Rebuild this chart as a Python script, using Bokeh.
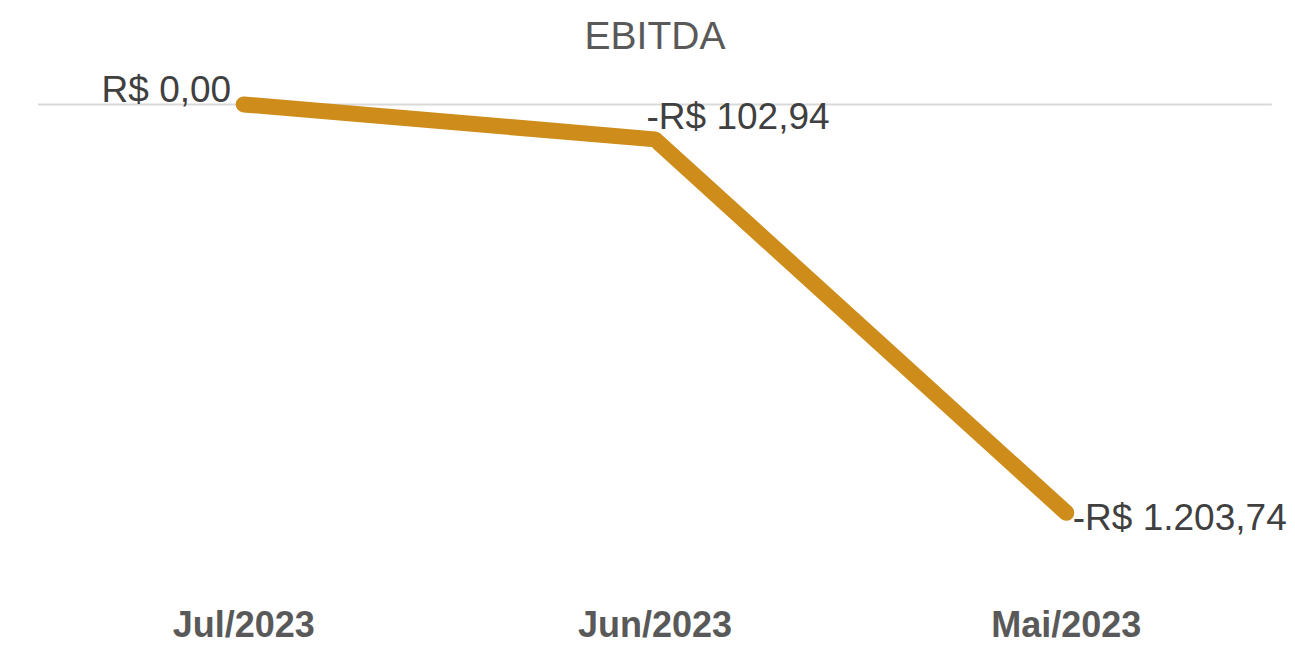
from bokeh.plotting import figure
from bokeh.models import FactorRange, Range1d, ColumnDataSource, LabelSet
from bokeh.core.properties import value
from bokeh.embed import file_html
from bokeh.resources import INLINE

categories = ["Jul/2023", "Jun/2023", "Mai/2023"]
ebitda = [0.00, -102.94, -1203.74]


def brl(v):
    s = f"{abs(v):,.2f}".replace(",", "X").replace(".", ",").replace("X", ".")
    return ("-" if v < 0 else "") + "R$ " + s


labels = [brl(v) for v in ebitda]
label_align = ["right", "left", "left"]
label_dx = [-12.5, -8.5, 6.5]
label_dy = [2.5, 10, -17]

src = ColumnDataSource(dict(cat=categories, val=ebitda, label=labels,
                            align=label_align, dx=label_dx, dy=label_dy))

FONT = "Liberation Sans"

p = figure(width=1295, height=647,
           x_range=FactorRange(*categories, range_padding=0.05,
                               range_padding_units="absolute"),
           y_range=Range1d(-1424, 106),
           output_backend="svg", toolbar_location=None,
           min_border_left=17, min_border_right=3,
           min_border_top=66, min_border_bottom=0)

p.title.text = "EBITDA"
p.title.align = "center"
p.title.offset = -4
p.title.text_font = FONT
p.title.text_font_size = "39px"
p.title.text_font_style = "normal"
p.title.text_color = "#595959"
p.title.standoff = 23

# zero gridline spanning the category band (synthetic coords 0..n)
p.segment(x0=[0], x1=[len(categories)], y0=[0], y1=[0],
          line_color="#D9D9D9", line_width=2)

p.line(x="cat", y="val", source=src, line_width=16, color="#CE8C1A",
       line_cap="round", line_join="round")

p.add_layout(LabelSet(x="cat", y="val", text="label", source=src,
                      x_offset="dx", y_offset="dy", text_align="align",
                      text_baseline="alphabetic", text_font=value(FONT),
                      text_font_size=value("37px"), text_color="#404040"))

p.yaxis.visible = False
p.xgrid.visible = False
p.ygrid.visible = False
p.outline_line_color = None

xa = p.xaxis[0]
xa.axis_line_color = None
xa.major_tick_line_color = None
xa.minor_tick_line_color = None
xa.major_label_standoff = 10
xa.major_label_text_font = FONT
xa.major_label_text_font_size = "36px"
xa.major_label_text_font_style = "bold"
xa.major_label_text_color = "#595959"

open("out.html", "w").write(file_html(p, INLINE))
